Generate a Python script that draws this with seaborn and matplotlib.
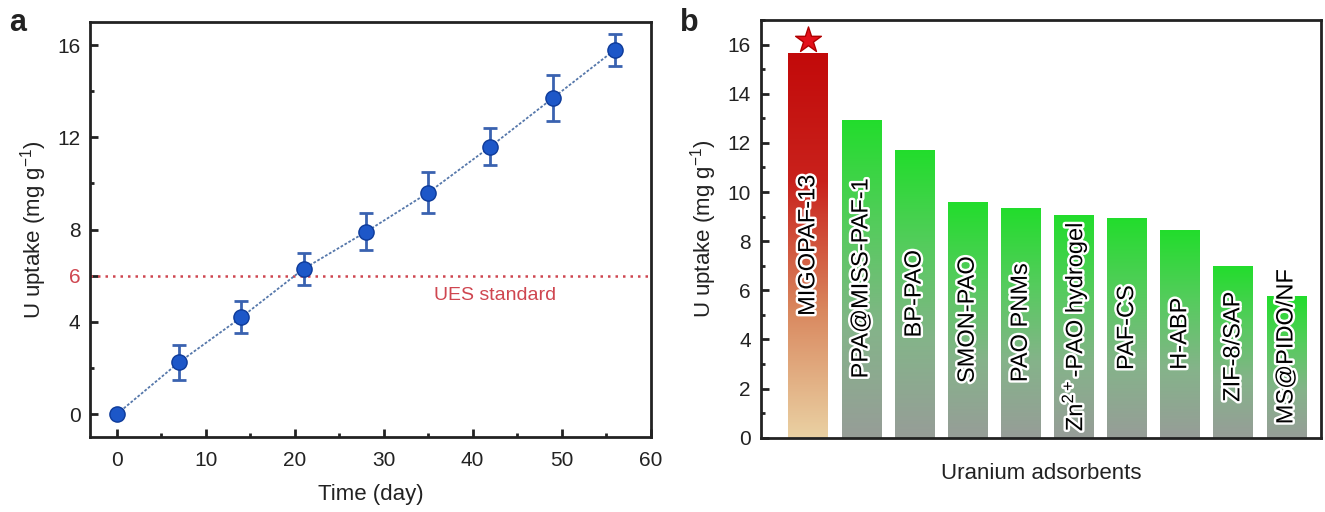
import numpy as np
import matplotlib
matplotlib.use("Agg")
import matplotlib.pyplot as plt
import matplotlib.patheffects as pe
from matplotlib.colors import LinearSegmentedColormap
from matplotlib.ticker import MultipleLocator
import seaborn as sns
import pandas as pd

# Panel a: uptake over time
days = [0, 7, 14, 21, 28, 35, 42, 49, 56]
uptake = [0.0, 2.25, 4.2, 6.3, 7.9, 9.6, 11.6, 13.7, 15.8]
uptake_err = [0.0, 0.75, 0.7, 0.7, 0.8, 0.9, 0.8, 1.0, 0.7]
ues_standard = 6

# Panel b: comparison of adsorbents
adsorbents = ["MIGOPAF-13", "PPA@MISS-PAF-1", "BP-PAO", "SMON-PAO", "PAO PNMs",
              "Zn$^{2+}$-PAO hydrogel", "PAF-CS", "H-ABP", "ZIF-8/SAP", "MS@PIDO/NF"]
capacity = [15.65, 12.95, 11.7, 9.6, 9.35, 9.05, 8.95, 8.45, 7.0, 5.75]

sns.set_theme(style="ticks")
plt.rcParams['font.family'] = ['Liberation Sans', 'DejaVu Sans']
plt.rcParams['mathtext.fontset'] = 'custom'
plt.rcParams['mathtext.rm'] = 'Liberation Sans'

fig = plt.figure(figsize=(13.25, 5.12), dpi=100)
ax1 = fig.add_axes([0.068, 0.146, 0.423, 0.811])
ax2 = fig.add_axes([0.574, 0.145, 0.423, 0.816])


def style_axis(ax):
    for s in ax.spines.values():
        s.set_linewidth(2)
        s.set_color("#222222")
    ax.tick_params(which="both", direction="in", top=False, right=False,
                   labelsize=15, colors="#222222", width=2)
    ax.tick_params(which="major", length=6)
    ax.tick_params(which="minor", length=3)
    ax.tick_params(axis="x", pad=10)
    ax.tick_params(axis="y", pad=7)


# ---- panel a ----
df_a = pd.DataFrame({"day": days, "uptake": uptake})
sns.lineplot(data=df_a, x="day", y="uptake", ax=ax1, color="#5577aa",
             linestyle=(0, (1.5, 1)), linewidth=1.3, zorder=2)
ax1.errorbar(days, uptake, yerr=uptake_err, fmt="none", ecolor="#3a62b0",
             elinewidth=2, capsize=5, capthick=2, zorder=3)
sns.scatterplot(data=df_a, x="day", y="uptake", ax=ax1, s=120, color="#1d57c8",
                edgecolor="#0d3a99", linewidth=1, zorder=4)
ax1.axhline(ues_standard, color="#cf4650", linestyle=(0, (1, 2)), linewidth=1.8, zorder=1)
ax1.text(42.5, 5.15, "UES standard", color="#cf4650", fontsize=14,
         ha="center", va="center")
ax1.set_xlim(-3, 60)
ax1.set_ylim(-1, 17)
ax1.set_xticks([0, 10, 20, 30, 40, 50, 60])
ax1.xaxis.set_minor_locator(MultipleLocator(5))
ax1.set_yticks([0, 4, 6, 8, 12, 16])
ax1.yaxis.set_minor_locator(MultipleLocator(2))
style_axis(ax1)
ax1.get_yticklabels()[2].set_color("#cf4650")
ax1.set_xlabel("Time (day)", fontsize=16, labelpad=10, color="#222222")
ax1.set_ylabel("U uptake (mg g$^{-1}$)", fontsize=16, labelpad=6, color="#222222")

# ---- panel b ----
df_b = pd.DataFrame({"adsorbent": adsorbents, "capacity": capacity})
sns.barplot(data=df_b, x="adsorbent", y="capacity", ax=ax2, width=0.75,
            color="white", edgecolor="none", zorder=1)

red_cmap = LinearSegmentedColormap.from_list("red", ["#ead1a3", "#d9875e", "#c9221c", "#c20a0a"])
green_cmap = LinearSegmentedColormap.from_list("green", ["#979d98", "#85b38a", "#55cc5d", "#22dd2c"])
grad = np.linspace(0, 1, 256).reshape(-1, 1)
for i, patch in enumerate(ax2.patches):
    x0, w, h = patch.get_x(), patch.get_width(), patch.get_height()
    cmap = red_cmap if i == 0 else green_cmap
    im = ax2.imshow(grad, cmap=cmap, origin="lower", aspect="auto",
                    extent=(x0, x0 + w, 0, h), zorder=2)
    im.set_clip_path(patch)

outline = [pe.withStroke(linewidth=3.5, foreground="white")]
for i, (name, val) in enumerate(zip(adsorbents, capacity)):
    ax2.text(i, max(val / 2, 3.7), name, rotation=90, ha="center", va="center",
             fontsize=17, color="black", path_effects=outline, zorder=5)

ax2.scatter([0], [capacity[0] + 0.55], marker="*", s=380, color="#e3101a",
            edgecolor="#b00000", zorder=5)
ax2.set_xlim(-0.9, 9.65)
ax2.set_ylim(0, 17)
ax2.set_xticks([])
ax2.yaxis.set_major_locator(MultipleLocator(2))
ax2.yaxis.set_minor_locator(MultipleLocator(1))
style_axis(ax2)
ax2.set_xlabel("Uranium adsorbents", fontsize=16, labelpad=18, color="#222222")
ax2.set_ylabel("U uptake (mg g$^{-1}$)", fontsize=16, labelpad=6, color="#222222")

fig.text(0.007, 0.94, "a", fontsize=22, fontweight="bold", color="#222222")
fig.text(0.513, 0.94, "b", fontsize=22, fontweight="bold", color="#222222")

fig.savefig("out.png", dpi=100)
